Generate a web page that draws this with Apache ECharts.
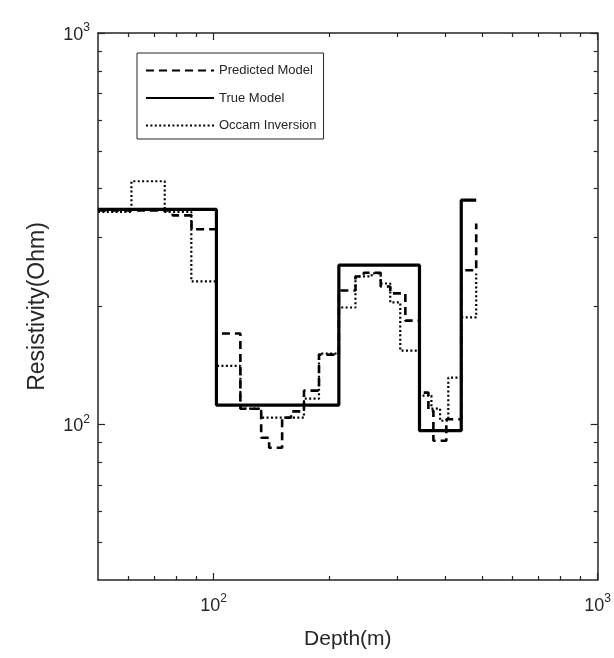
<!DOCTYPE html>
<html><head><meta charset="utf-8">
<script src="https://cdn.jsdelivr.net/npm/echarts@6/dist/echarts.min.js"></script>
<style>html,body{margin:0;padding:0;background:#fff}#c{width:614px;height:658px}</style>
</head><body><div id="c"></div>
<script>
// Layer tops (depth, m) and resistivity (Ohm) for each model
const trueDepth = [50, 101.7, 211.9, 343.6, 441.4, 482.8];
const trueRes   = [354, 112, 255, 96.3, 374, 374];

const predDepth = [50, 78.2, 87.6, 101.7, 117.4, 133, 139.5, 150.8, 159.1, 171.9, 188.1, 211.9, 234.1, 246, 272.3, 288.4, 315.7, 343.6, 362.5, 373.5, 403.6, 441.4, 482.8];
const predRes   = [352, 342, 315, 170.6, 109.6, 92.4, 87.1, 104, 107.9, 121.9, 150.7, 219.8, 238.7, 244, 225, 216, 184, 120.5, 108.4, 90.8, 103, 247.5, 326];

const occDepth = [50, 61.1, 74.6, 87.5, 101.7, 117.4, 133, 171.9, 188.1, 211.9, 234.1, 258, 272.3, 288.4, 306.2, 343.6, 369.1, 388.8, 408.4, 441.4, 482.8];
const occRes   = [349, 418, 349, 232, 141, 109.6, 104, 116.3, 151.6, 198.8, 238.7, 243, 229, 204.8, 154.3, 118.4, 109.6, 102.1, 131.6, 187.5, 243];

const seriesNames = ['Predicted Model', 'True Model', 'Occam Inversion'];
const xMajor = [100, 1000];
const xMinor = [60, 70, 80, 90, 200, 300, 400, 500, 600, 700, 800, 900];
const yMajor = [100, 1000];
const yMinor = [50, 60, 70, 80, 90, 200, 300, 400, 500, 600, 700, 800, 900];
const xRange = [50, 1000];
const yRange = [40, 1000];

const INK = '#262626';
const FONT = 'Liberation Sans, Arial, sans-serif';
const pairs = (d, r) => d.map((v, i) => [v, r[i]]);
const supFmt = v => '{b|10}{s|' + Math.round(Math.log10(v)) + '}';
const rich = {
  b: { fontSize: 18, fontFamily: FONT, color: INK, lineHeight: 22, verticalAlign: 'bottom' },
  s: { fontSize: 12, fontFamily: FONT, color: INK, lineHeight: 22, verticalAlign: 'top' }
};

function axis(pos, range, vals, len, main, extra) {
  const a = {
    type: 'log', logBase: 10, min: range[0], max: range[1], position: pos,
    axisLine: { show: main, onZero: false, lineStyle: { color: INK, width: 1.5 } },
    axisTick: { show: true, inside: true, length: len, customValues: vals, lineStyle: { color: INK, width: 1.2 } },
    axisLabel: { show: false },
    splitLine: { show: false }, minorTick: { show: false }, minorSplitLine: { show: false }
  };
  return Object.assign(a, extra || {});
}

const xAxes = [
  axis('bottom', xRange, xMajor, 7, true, {
    axisLabel: { show: true, customValues: xMajor, formatter: supFmt, rich: rich, margin: 13 },
    name: 'Depth(m)', nameLocation: 'middle', nameGap: 49,
    nameTextStyle: { fontSize: 21, fontFamily: FONT, color: INK }
  }),
  axis('bottom', xRange, xMinor, 4, false),
  axis('top', xRange, xMajor, 7, true),
  axis('top', xRange, xMinor, 4, false)
];
const yAxes = [
  axis('left', yRange, yMajor, 7, true, {
    axisLabel: { show: true, customValues: yMajor, formatter: supFmt, rich: rich, margin: 8 },
    name: 'Resistivity(Ohm)', nameLocation: 'middle', nameGap: 49,
    nameTextStyle: { fontSize: 23, fontFamily: FONT, color: INK }
  }),
  axis('left', yRange, yMinor, 4, false),
  axis('right', yRange, yMajor, 7, true),
  axis('right', yRange, yMinor, 4, false)
];

const chart = echarts.init(document.getElementById('c'), null, { renderer: 'canvas' });
chart.setOption({
  animation: false,
  backgroundColor: '#fff',
  grid: { left: 98, right: 14, top: 33, bottom: 78, containLabel: false },
  xAxis: xAxes,
  yAxis: yAxes,
  legend: {
    data: seriesNames, orient: 'vertical', left: 137, top: 53,
    padding: [11, 7, 7, 8], itemWidth: 68, itemHeight: 14, itemGap: 14.5,
    backgroundColor: '#fff', borderColor: INK, borderWidth: 1,
    itemStyle: { opacity: 0 },
    textStyle: { fontSize: 13, fontFamily: FONT, color: INK },
    selectedMode: false
  },
  series: [
    { name: 'True Model', type: 'line', step: 'end', data: pairs(trueDepth, trueRes), symbol: 'none', showSymbol: false, z: 2,
      lineStyle: { color: '#000', width: 3.2, type: 'solid' }, itemStyle: { color: '#000' } },
    { name: 'Predicted Model', type: 'line', step: 'end', data: pairs(predDepth, predRes), symbol: 'none', showSymbol: false, z: 3,
      lineStyle: { color: '#000', width: 2.6, type: [8, 5] }, itemStyle: { color: '#000' } },
    { name: 'Occam Inversion', type: 'line', step: 'end', data: pairs(occDepth, occRes), symbol: 'none', showSymbol: false, z: 4,
      lineStyle: { color: '#000', width: 2.2, type: [2, 2.4] }, itemStyle: { color: '#000' } }
  ]
});
</script>
</body></html>
